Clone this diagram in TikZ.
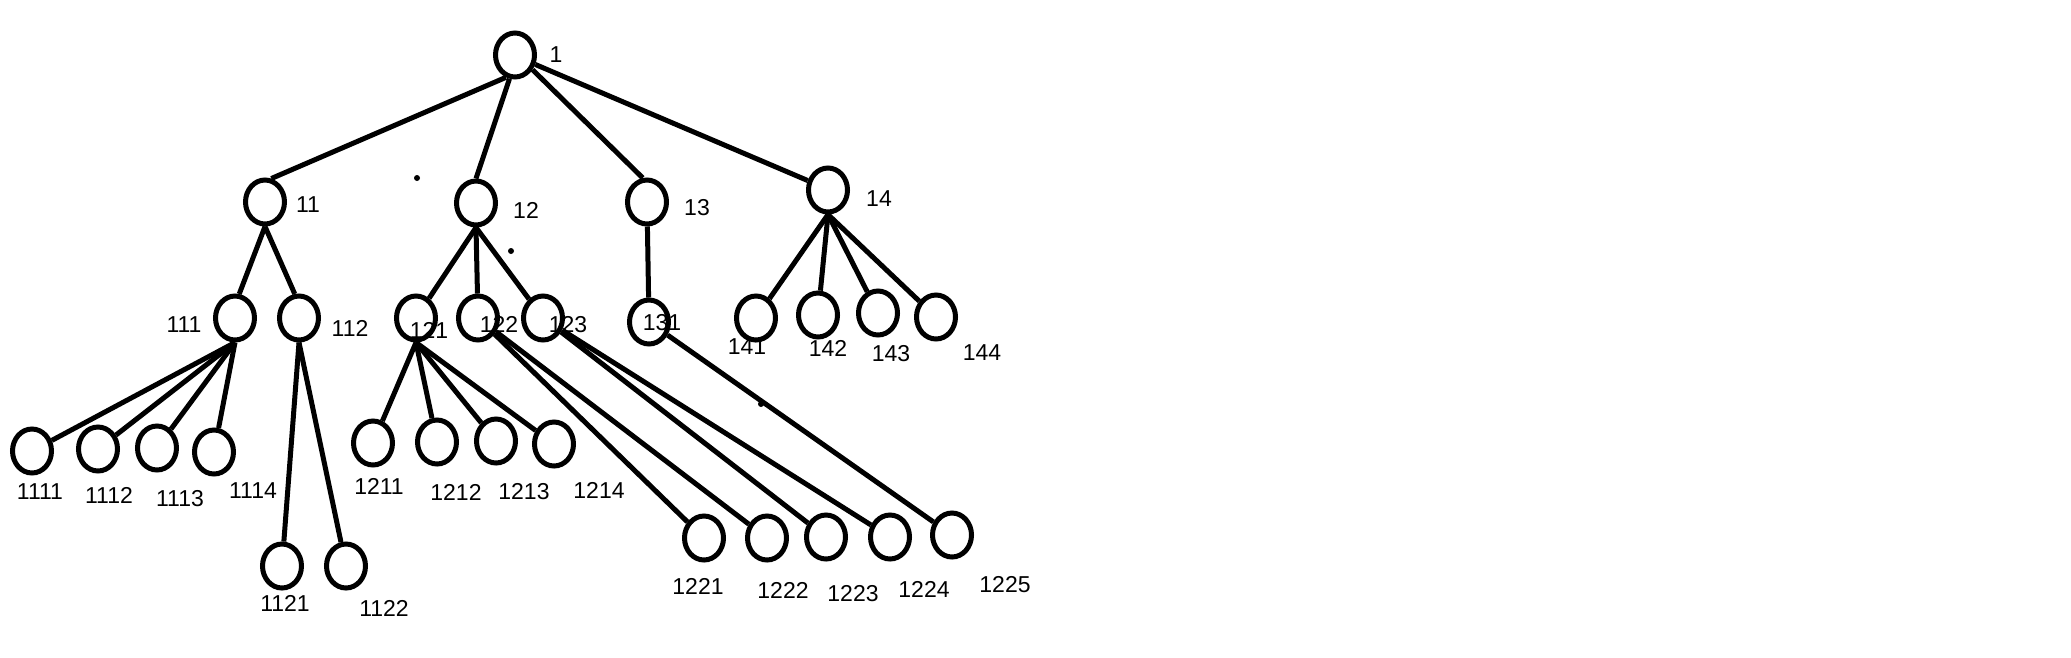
\documentclass[tikz,border=0pt]{standalone}
\usepackage{fontspec}
\setmainfont{Liberation Sans}
\usetikzlibrary{shapes.geometric}
\begin{document}
\begin{tikzpicture}[x=1pt,y=-1pt,
  tnode/.style={draw=black,ellipse,line width=5pt,minimum width=39pt,minimum height=44pt,inner sep=0pt},
  lbl/.style={font=\fontsize{23}{23}\selectfont,inner sep=0pt},
  edge/.style={line width=5pt,black}]
\useasboundingbox[fill=white] (0,0) rectangle (2071,657);
% nodes
\node[tnode] (n1) at (515,55) {};
\node[tnode] (n11) at (265,202) {};
\node[tnode] (n12) at (476,203) {};
\node[tnode] (n13) at (647,202) {};
\node[tnode] (n14) at (828,190) {};
\node[tnode] (n111) at (235,318) {};
\node[tnode] (n112) at (299,318) {};
\node[tnode] (n121) at (416,318) {};
\node[tnode] (n122) at (478,318) {};
\node[tnode] (n123) at (543,318) {};
\node[tnode] (n131) at (649,322) {};
\node[tnode] (n141) at (756,318) {};
\node[tnode] (n142) at (818,315) {};
\node[tnode] (n143) at (878,313) {};
\node[tnode] (n144) at (936,317) {};
\node[tnode] (n1111) at (32,451) {};
\node[tnode] (n1112) at (98,449) {};
\node[tnode] (n1113) at (157,448) {};
\node[tnode] (n1114) at (214,452) {};
\node[tnode] (n1121) at (282,566) {};
\node[tnode] (n1122) at (346,566) {};
\node[tnode] (n1211) at (373,443) {};
\node[tnode] (n1212) at (437,442) {};
\node[tnode] (n1213) at (496,441) {};
\node[tnode] (n1214) at (554,444) {};
\node[tnode] (n1221) at (704,538) {};
\node[tnode] (n1222) at (767,538) {};
\node[tnode] (n1223) at (826,537) {};
\node[tnode] (n1224) at (890,537) {};
\node[tnode] (n1225) at (952,535) {};
% edges
\draw[edge] (n1.-112) -- (n11.75);
\draw[edge] (n1.-103) -- (n12.north);
\draw[edge] (n1.-40) -- (n13.100);
\draw[edge] (n1.-25) -- (n14.155);
\draw[edge] (n11.south) -- (n111.80);
\draw[edge] (n11.south) -- (n112.100);
\draw[edge] (n12.south) -- (n121);
\draw[edge] (n12.south) -- (n122);
\draw[edge] (n12.south) -- (n123);
\draw[edge] (n13) -- (n131);
\draw[edge] (n14.south) -- (n141);
\draw[edge] (n14.south) -- (n142);
\draw[edge] (n14.south) -- (n143);
\draw[edge] (n14.south) -- (n144);
\draw[edge] (n111.south) -- (n1111);
\draw[edge] (n111.south) -- (n1112);
\draw[edge] (n111.south) -- (n1113);
\draw[edge] (n111.south) -- (n1114);
\draw[edge] (n112.south) -- (n1121);
\draw[edge] (n112.south) -- (n1122);
\draw[edge] (n121.south) -- (n1211);
\draw[edge] (n121.south) -- (n1212);
\draw[edge] (n121.south) -- (n1213);
\draw[edge] (n121.south) -- (n1214);
\draw[edge] (n122) -- (n1221);
\draw[edge] (n122) -- (n1222);
\draw[edge] (n123) -- (n1223);
\draw[edge] (n123) -- (n1224);
\draw[edge] (n131) -- (n1225);
% labels
\node[lbl] (l1) at (556,55) {1};
\node[lbl] (l11) at (308,205) {11};
\node[lbl] (l12) at (526,210) {12};
\node[lbl] (l13) at (697,208) {13};
\node[lbl] (l14) at (879,199) {14};
\node[lbl] (l111) at (184,325) {111};
\node[lbl] (l112) at (350,328) {112};
\node[lbl] (l121) at (429,330) {121};
\node[lbl] (l122) at (499,324) {122};
\node[lbl] (l123) at (568,325) {123};
\node[lbl] (l131) at (662,323) {131};
\node[lbl] (l141) at (747,347) {141};
\node[lbl] (l142) at (828,348) {142};
\node[lbl] (l143) at (891,354) {143};
\node[lbl] (l144) at (982,353) {144};
\node[lbl] (l1111) at (40,492) {1111};
\node[lbl] (l1112) at (109,495) {1112};
\node[lbl] (l1113) at (180,499) {1113};
\node[lbl] (l1114) at (253,491) {1114};
\node[lbl] (l1121) at (285,603) {1121};
\node[lbl] (l1122) at (384,608) {1122};
\node[lbl] (l1211) at (379,486) {1211};
\node[lbl] (l1212) at (456,492) {1212};
\node[lbl] (l1213) at (524,492) {1213};
\node[lbl] (l1214) at (599,490) {1214};
\node[lbl] (l1221) at (698,586) {1221};
\node[lbl] (l1222) at (783,590) {1222};
\node[lbl] (l1223) at (853,594) {1223};
\node[lbl] (l1224) at (924,589) {1224};
\node[lbl] (l1225) at (1005,585) {1225};
% stray dots
\fill (417,178) circle (3);
\fill (511,251) circle (3);
\fill (761,404) circle (3);
\end{tikzpicture}
\end{document}
